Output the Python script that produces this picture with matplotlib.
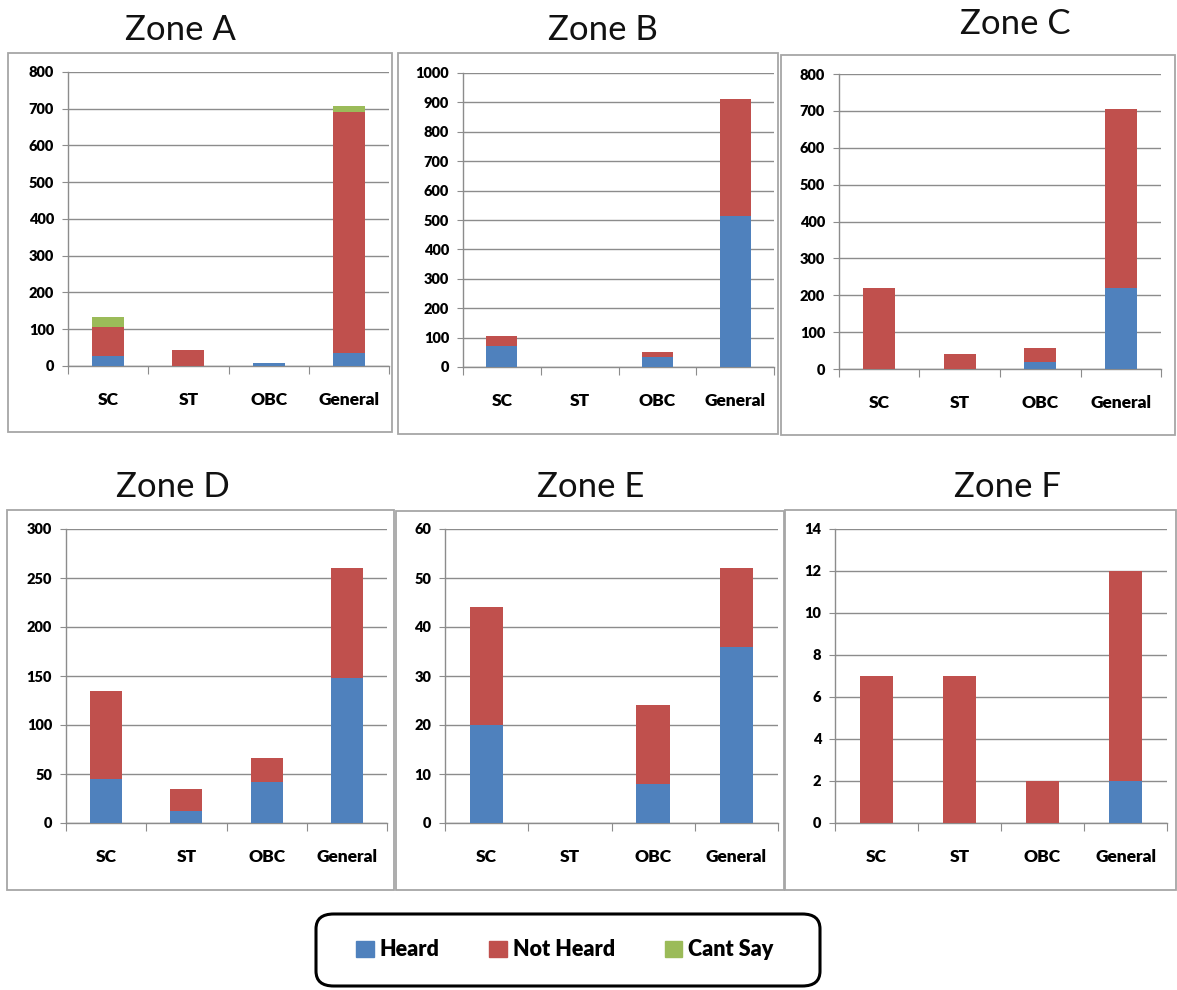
import matplotlib
matplotlib.use("Agg")
import matplotlib.pyplot as plt
from matplotlib.patches import Rectangle, FancyBboxPatch, Patch
import numpy as np

plt.rcParams.update({"font.family": ["Lato", "DejaVu Sans"]})

CATS = ["SC", "ST", "OBC", "General"]

# zone -> (heard, not heard, cant say)
A_HEARD = [27, 0, 8, 35]
A_NOT = [78, 44, 0, 655]
A_CANT = [28, 0, 0, 18]
B_HEARD = [70, 0, 33, 515]
B_NOT = [35, 0, 17, 397]
C_HEARD = [0, 0, 20, 220]
C_NOT = [220, 40, 38, 485]
D_HEARD = [45, 12, 42, 148]
D_NOT = [90, 23, 24, 112]
E_HEARD = [20, 0, 8, 36]
E_NOT = [24, 0, 16, 16]
F_HEARD = [0, 0, 0, 2]
F_NOT = [7, 7, 2, 10]

ZONES = ["Zone A", "Zone B", "Zone C", "Zone D", "Zone E", "Zone F"]
HEARD = [A_HEARD, B_HEARD, C_HEARD, D_HEARD, E_HEARD, F_HEARD]
NOT_HEARD = [A_NOT, B_NOT, C_NOT, D_NOT, E_NOT, F_NOT]
CANT_SAY = [A_CANT, None, None, None, None, None]
YMAX = [800, 1000, 800, 300, 60, 14]
YSTEP = [100, 100, 100, 50, 10, 2]

BLUE, RED, GREEN = "#4F81BD", "#C0504D", "#9BBB59"
GRID = "#8c8c8c"

W, H = 1177, 990
# pixel layouts: axes (left, right, top, bottom), box (left, right, top, bottom), title (x, y)
AX_PX = [(68, 389, 72, 366), (463, 774, 73, 367), (839, 1161, 74, 369),
         (66, 387, 529, 823), (445, 778, 529, 823), (835, 1167, 529, 823)]
BOX_PX = [(8, 392, 53, 432), (398, 778, 53, 434), (781, 1175, 55, 435),
          (7, 394, 510, 890), (396, 784, 511, 890), (785, 1176, 510, 890)]
TITLE_PX = [(180, 30), (603, 30), (1015, 24), (173, 487), (591, 487), (1007, 487)]

fig = plt.figure(figsize=(W / 100, H / 100), dpi=100)

for i in range(6):
    l, r, t, b = BOX_PX[i]
    fig.patches.append(Rectangle((l / W, 1 - b / H), (r - l) / W, (b - t) / H,
                                 transform=fig.transFigure, fill=False,
                                 edgecolor="#a6a6a6", lw=1.3))
    tx, ty = TITLE_PX[i]
    fig.text(tx / W, 1 - ty / H, ZONES[i], ha="center", va="center",
             fontsize=25, color="#111111")

    l, r, t, b = AX_PX[i]
    ax = fig.add_axes([l / W, 1 - b / H, (r - l) / W, (b - t) / H])
    x = np.arange(len(CATS)) + 0.5
    heard = np.array(HEARD[i])
    nh = np.array(NOT_HEARD[i])
    ax.bar(x, heard, width=0.4, color=BLUE, zorder=3)
    ax.bar(x, nh, width=0.4, bottom=heard, color=RED, zorder=3)
    if CANT_SAY[i] is not None:
        ax.bar(x, CANT_SAY[i], width=0.4, bottom=heard + nh, color=GREEN, zorder=3)

    ax.set_xlim(0, 4)
    ax.set_ylim(0, YMAX[i])
    ax.set_yticks(np.arange(0, YMAX[i] + 1, YSTEP[i]))
    ax.yaxis.grid(True, color=GRID, lw=1.0, zorder=0)
    ax.set_axisbelow(True)
    for s in ("top", "right"):
        ax.spines[s].set_visible(False)
    for s in ("left", "bottom"):
        ax.spines[s].set_color(GRID)
        ax.spines[s].set_linewidth(1.0)
    ax.set_xticks([0, 1, 2, 3, 4])
    ax.set_xticklabels([])
    ax.tick_params(axis="x", which="major", length=6, color=GRID, direction="out")
    ax.set_xticks(x, minor=True)
    ax.set_xticklabels(CATS, minor=True, fontsize=12.5, fontweight="heavy")
    ax.tick_params(axis="x", which="minor", length=0, pad=19)
    ax.tick_params(axis="y", length=4, color=GRID, labelsize=10.5, pad=6)
    for lb in ax.get_yticklabels():
        lb.set_fontweight("heavy")

# legend box
lx0, lx1, ly0, ly1 = 316, 820, 914, 986
fig.patches.append(FancyBboxPatch((lx0 / W, 1 - ly1 / H), (lx1 - lx0) / W, (ly1 - ly0) / H,
                                  boxstyle="round,pad=0,rounding_size=0.015",
                                  transform=fig.transFigure, fill=False,
                                  edgecolor="black", lw=2.2))
handles = [Patch(color=BLUE, label="Heard"), Patch(color=RED, label="Not Heard"),
           Patch(color=GREEN, label="Cant Say")]
fig.legend(handles=handles, loc="center", bbox_to_anchor=(565 / W, 1 - 950 / H),
           ncol=3, frameon=False, handlelength=0.8, handleheight=0.8,
           handletextpad=0.3, columnspacing=2.3,
           prop={"size": 15.5, "weight": "heavy"})

fig.savefig("out.png", dpi=100)
